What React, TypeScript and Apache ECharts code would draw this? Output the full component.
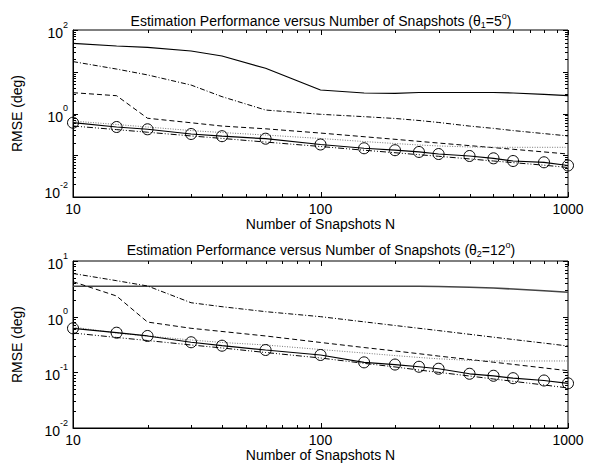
import React, { useEffect, useRef } from 'react';
import * as echarts from 'echarts';

// Number of snapshots (x values)
const snapshots = [10, 15, 20, 30, 40, 60, 100, 150, 200, 250, 300, 400, 500, 600, 800, 1000];

// Top panel (theta1 = 5 deg) RMSE values
const topSolid = [47.6, 41.4, 38.5, 31.4, 23.8, 12.1, 3.66, 3.1, 3.05, 3.18, 3.18, 3.18, 3.18, 3.1, 2.88, 2.67];
const topDashDot = [17.5, 11.6, 8.4, 4.8, 2.53, 1.21, 0.957, 0.84, 0.76, 0.68, 0.61, 0.5, 0.44, 0.39, 0.33, 0.29];
const topDashed = [3.15, 2.67, 0.77, 0.6, 0.5, 0.43, 0.34, 0.278, 0.241, 0.215, 0.196, 0.17, 0.152, 0.139, 0.12, 0.107];
const topDotted = [0.66, 0.546, 0.475, 0.39, 0.35, 0.305, 0.252, 0.213, 0.191, 0.176, 0.167, 0.158, 0.155, 0.155, 0.155, 0.155];
const topCircle = [0.602, 0.475, 0.419, 0.323, 0.286, 0.249, 0.181, 0.147, 0.132, 0.12, 0.107, 0.096, 0.0845, 0.0728, 0.0678, 0.0568];
const topDashDotDot = [0.502, 0.411, 0.356, 0.29, 0.253, 0.207, 0.162, 0.132, 0.115, 0.103, 0.0944, 0.0817, 0.0728, 0.0666, 0.0578, 0.0509];

// Bottom panel (theta2 = 12 deg) RMSE values
const botSolid = [3.51, 3.51, 3.51, 3.51, 3.51, 3.51, 3.51, 3.51, 3.51, 3.51, 3.49, 3.37, 3.27, 3.14, 2.93, 2.74];
const botDashDot = [5.96, 4.43, 3.56, 1.78, 1.51, 1.23, 1.0, 0.807, 0.694, 0.618, 0.562, 0.482, 0.428, 0.389, 0.335, 0.297];
const botDashed = [4.25, 2.35, 0.8, 0.618, 0.542, 0.45, 0.344, 0.279, 0.242, 0.216, 0.196, 0.17, 0.152, 0.139, 0.12, 0.107];
const botDotted = [0.652, 0.509, 0.45, 0.381, 0.344, 0.31, 0.257, 0.222, 0.2, 0.185, 0.175, 0.164, 0.16, 0.16, 0.16, 0.16];
const botCircle = [0.618, 0.515, 0.45, 0.347, 0.301, 0.252, 0.205, 0.151, 0.138, 0.126, 0.116, 0.0942, 0.0867, 0.0785, 0.0713, 0.0635];
const botDashDotDot = [0.509, 0.423, 0.373, 0.31, 0.274, 0.227, 0.181, 0.145, 0.125, 0.11, 0.1, 0.0859, 0.0759, 0.069, 0.0593, 0.0524];

// Tick marks
const xTickValues = [10, 20, 30, 40, 50, 60, 70, 80, 90, 100, 200, 300, 400, 500, 600, 700, 800, 900, 1000];
const xMajorTicks = [10, 100, 1000];
const topDecades = [-2, -1, 0, 1, 2];
const botDecades = [-2, -1, 0, 1];
const minorMultipliers = [2, 3, 4, 5, 6, 7, 8, 9];

const FONT = "'Liberation Sans', Arial, Helvetica, sans-serif";

function yTicksFor(decades: number[]) {
  const out: number[][] = [];
  decades.forEach((d, i) => {
    out.push([10, Math.pow(10, d), 1]);
    if (i < decades.length - 1) {
      minorMultipliers.forEach((m) => out.push([10, m * Math.pow(10, d), 0]));
    }
  });
  return out;
}

const pairs = (ys: number[]) => snapshots.map((n, i) => [n, ys[i]]);

const tickStyle = { stroke: '#000', lineWidth: 1 };

function xTickSeries(idx: number) {
  return {
    type: 'custom',
    xAxisIndex: idx,
    yAxisIndex: idx,
    silent: true,
    clip: false,
    z: 5,
    data: xTickValues.map((v) => [v, 1, xMajorTicks.includes(v) ? 1 : 0]),
    renderItem: (params: any, api: any) => {
      const cs = params.coordSys;
      const px = Math.round(api.coord([api.value(0), 1])[0]) + 0.5;
      const len = api.value(2) === 1 ? 5 : 3;
      const bottom = cs.y + cs.height;
      return {
        type: 'group',
        children: [
          { type: 'line', shape: { x1: px, y1: bottom, x2: px, y2: bottom - len }, style: tickStyle },
          { type: 'line', shape: { x1: px, y1: cs.y, x2: px, y2: cs.y + len }, style: tickStyle },
        ],
      };
    },
  };
}

function yTickSeries(idx: number, decades: number[]) {
  return {
    type: 'custom',
    xAxisIndex: idx,
    yAxisIndex: idx,
    silent: true,
    clip: false,
    z: 5,
    data: yTicksFor(decades),
    renderItem: (params: any, api: any) => {
      const cs = params.coordSys;
      const py = Math.round(api.coord([10, api.value(1)])[1]) + 0.5;
      const len = api.value(2) === 1 ? 5 : 3;
      const right = cs.x + cs.width;
      return {
        type: 'group',
        children: [
          { type: 'line', shape: { x1: cs.x, y1: py, x2: cs.x + len, y2: py }, style: tickStyle },
          { type: 'line', shape: { x1: right, y1: py, x2: right - len, y2: py }, style: tickStyle },
        ],
      };
    },
  };
}

function lineSeries(idx: number, ys: number[], type: any, color = '#000', width = 1) {
  return {
    type: 'line',
    xAxisIndex: idx,
    yAxisIndex: idx,
    data: pairs(ys),
    symbol: 'none',
    lineStyle: { color, width, type },
    z: 3,
  };
}

function circleSeries(idx: number, ys: number[]) {
  return {
    type: 'line',
    xAxisIndex: idx,
    yAxisIndex: idx,
    data: pairs(ys),
    symbol: 'circle',
    symbolSize: 11,
    showAllSymbol: true,
    clip: false,
    itemStyle: { color: 'rgba(0,0,0,0)', borderColor: '#000', borderWidth: 1 },
    lineStyle: { color: '#000', width: 1.2, type: 'solid' },
    z: 4,
  };
}

const richLabel = {
  b: { fontSize: 14, fontFamily: FONT, color: '#000', lineHeight: 20, verticalAlign: 'bottom' },
  s: { fontSize: 9, fontFamily: FONT, color: '#000', lineHeight: 11, verticalAlign: 'top' },
  e: { fontSize: 10, fontFamily: FONT, color: '#000', lineHeight: 14 },
};

function yAxis(idx: number, min: number, max: number, everyOther: boolean) {
  return {
    type: 'log',
    gridIndex: idx,
    logBase: 10,
    min,
    max,
    name: 'RMSE (deg)',
    nameLocation: 'middle',
    nameGap: 49,
    nameTextStyle: { fontSize: 14, fontFamily: FONT, color: '#000' },
    axisLine: { show: true, lineStyle: { color: '#000', width: 1 } },
    axisTick: { show: false },
    splitLine: { show: false },
    minorTick: { show: false },
    axisLabel: {
      margin: 5,
      formatter: (v: number) => {
        const e = Math.round(Math.log10(v));
        if (everyOther && e % 2 !== 0) return '';
        if (everyOther && e === -2) return `{b|10}{s|${e}}\n{e| }`;
        return `{b|10}{s|${e}}`;
      },
      rich: richLabel,
    },
  };
}

function xAxis(idx: number) {
  return {
    type: 'log',
    gridIndex: idx,
    logBase: 10,
    min: 10,
    max: 1000,
    name: 'Number of Snapshots N',
    nameLocation: 'middle',
    nameGap: 18,
    nameTextStyle: { fontSize: 14, fontFamily: FONT, color: '#000' },
    axisLine: { show: true, lineStyle: { color: '#000', width: 1 } },
    axisTick: { show: false },
    splitLine: { show: false },
    minorTick: { show: false },
    axisLabel: {
      margin: 5,
      fontSize: 14,
      fontFamily: FONT,
      color: '#000',
      formatter: (v: number) => String(Math.round(v)),
    },
  };
}

const titleRich = {
  t: { fontSize: 14, fontWeight: 'normal', fontFamily: FONT, color: '#000', lineHeight: 20, verticalAlign: 'middle' },
  sb: { fontSize: 9, fontWeight: 'normal', fontFamily: FONT, color: '#000', lineHeight: 20, verticalAlign: 'bottom', padding: [0, 0, 2, 0] },
  sp: { fontSize: 9, fontWeight: 'normal', fontFamily: FONT, color: '#000', lineHeight: 12, verticalAlign: 'top' },
};

export default function App() {
  const ref = useRef<HTMLDivElement>(null);
  useEffect(() => {
    if (!ref.current) return;
    const chart = echarts.init(ref.current, null, { renderer: 'svg' });
    const option: any = {
      animation: false,
      backgroundColor: '#fff',
      title: [
        {
          text: '{t|Estimation Performance versus Number of Snapshots (θ}{sb|1}{t|=5}{sp|o}{t|)}',
          left: 316,
          top: 6,
          textAlign: 'center',
          textStyle: { fontWeight: 'normal', rich: titleRich },
        },
        {
          text: '{t|Estimation Performance versus Number of Snapshots (θ}{sb|2}{t|=12}{sp|o}{t|)}',
          left: 316,
          top: 235,
          textAlign: 'center',
          textStyle: { fontWeight: 'normal', rich: titleRich },
        },
      ],
      grid: [
        { left: 73, top: 30, width: 495, height: 167, show: true, borderColor: '#000', borderWidth: 1, backgroundColor: '#fff' },
        { left: 73, top: 261, width: 495, height: 167, show: true, borderColor: '#000', borderWidth: 1, backgroundColor: '#fff' },
      ],
      xAxis: [xAxis(0), xAxis(1)],
      yAxis: [yAxis(0, 0.01, 100, true), yAxis(1, 0.01, 10, false)],
      series: [
        lineSeries(0, topSolid, 'solid', '#000', 1.2),
        lineSeries(0, topDashDot, [5, 2, 1, 2]),
        lineSeries(0, topDashed, [5, 3]),
        lineSeries(0, topDotted, [1, 1.5], '#777', 1),
        lineSeries(0, topDashDotDot, [6, 2, 1, 2, 1, 2]),
        circleSeries(0, topCircle),
        xTickSeries(0),
        yTickSeries(0, topDecades),
        lineSeries(1, botSolid, 'solid', '#444', 1.6),
        lineSeries(1, botDashDot, [5, 2, 1, 2]),
        lineSeries(1, botDashed, [5, 3]),
        lineSeries(1, botDotted, [1, 1.5], '#777', 1),
        lineSeries(1, botDashDotDot, [6, 2, 1, 2, 1, 2]),
        circleSeries(1, botCircle),
        xTickSeries(1),
        yTickSeries(1, botDecades),
      ],
    };
    chart.setOption(option);
    return () => chart.dispose();
  }, []);
  return (
    <div
      ref={ref}
      style={{ position: 'fixed', left: 0, top: 0, width: 595, height: 466, background: '#fff' }}
    />
  );
}
